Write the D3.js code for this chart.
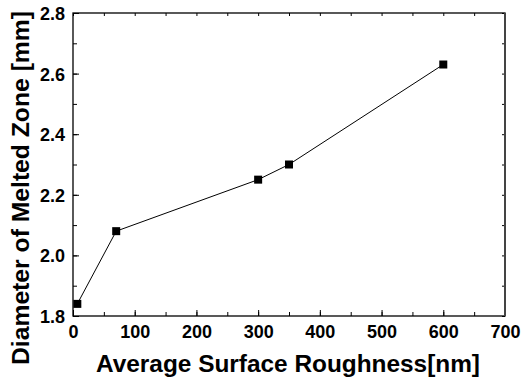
<!DOCTYPE html>
<html>
<head>
<meta charset="utf-8">
<script src="https://cdn.jsdelivr.net/npm/d3@7"></script>
<style>
  body { margin: 0; background: #fff; }
  svg { display: block; font-family: Arial, "Liberation Sans", sans-serif; }
</style>
</head>
<body>
<svg id="chart" width="521" height="383"></svg>
<script>
// data
const roughness = [7, 70, 300, 350, 600]
const diameter = [1.84, 2.08, 2.25, 2.30, 2.63]
const xTicks = [0, 100, 200, 300, 400, 500, 600, 700]
const yTicks = [1.8, 2.0, 2.2, 2.4, 2.6, 2.8]

const W = 521, H = 383
const margin = { top: 13, right: 16, bottom: 67, left: 73 }
const svg = d3.select('#chart')

const x = d3.scaleLinear().domain([0, 700]).range([margin.left, W - margin.right])
const y = d3.scaleLinear().domain([1.8, 2.8]).range([H - margin.bottom, margin.top])

const g = svg.append('g')

const xMinor = d3.range(0, 701, 50)
const yMinor = d3.range(0, 11).map(i => +(1.8 + i * 0.1).toFixed(1))

const styleLabels = a => a.selectAll('text')
  .attr('font-size', 18).attr('font-weight', 'bold').attr('fill', '#000')
  .attr('font-family', 'Arial, "Liberation Sans", sans-serif')

// bottom axis: minor + major ticks pointing in
g.append('g')
  .attr('transform', `translate(0,${y(1.8)})`)
  .call(d3.axisBottom(x).tickValues(xMinor).tickSize(-4).tickFormat(''))
  .call(a => a.select('.domain').remove())
g.append('g')
  .attr('transform', `translate(0,${y(1.8)})`)
  .call(d3.axisBottom(x).tickValues(xTicks).tickSize(-6).tickPadding(9).tickFormat(d3.format('d')))
  .call(a => a.select('.domain').remove())
  .call(styleLabels)

g.append('g')
  .attr('transform', `translate(${x(0)},0)`)
  .call(d3.axisLeft(y).tickValues(yMinor).tickSize(-4).tickFormat(''))
  .call(a => a.select('.domain').remove())
g.append('g')
  .attr('transform', `translate(${x(0)},0)`)
  .call(d3.axisLeft(y).tickValues(yTicks).tickSize(-6).tickPadding(8).tickFormat(d3.format('.1f')))
  .call(a => a.select('.domain').remove())
  .call(styleLabels)
  .call(a => a.selectAll('text').attr('dy', '0.36em'))

// top and right: small ticks only
g.append('g')
  .attr('transform', `translate(0,${y(2.8)})`)
  .call(d3.axisTop(x).tickValues(xMinor).tickSize(-3).tickFormat(''))
  .call(a => a.select('.domain').remove())
g.append('g')
  .attr('transform', `translate(${x(700)},0)`)
  .call(d3.axisRight(y).tickValues(yMinor).tickSize(-3).tickFormat(''))
  .call(a => a.select('.domain').remove())

g.selectAll('.tick line').attr('stroke', '#000').attr('stroke-width', 1)

// frame
g.append('rect')
  .attr('x', x(0)).attr('y', y(2.8))
  .attr('width', x(700) - x(0)).attr('height', y(1.8) - y(2.8))
  .attr('fill', 'none').attr('stroke', '#000').attr('stroke-width', 1.3)
g.append('line')
  .attr('x1', x(700)).attr('x2', x(700)).attr('y1', y(2.8)).attr('y2', y(1.8))
  .attr('stroke', '#444').attr('stroke-width', 2)

// series
const pts = roughness.map((r, i) => [r, diameter[i]])
g.append('path')
  .datum(pts)
  .attr('fill', 'none')
  .attr('stroke', '#000')
  .attr('stroke-width', 1)
  .attr('d', d3.line().x(d => x(d[0])).y(d => y(d[1])))

g.selectAll('rect.pt')
  .data(pts)
  .join('rect')
  .attr('class', 'pt')
  .attr('x', d => x(d[0]) - 4).attr('y', d => y(d[1]) - 4)
  .attr('width', 8).attr('height', 8)
  .attr('fill', '#000')

// axis titles
svg.append('text')
  .attr('x', 288).attr('y', 372)
  .attr('text-anchor', 'middle')
  .attr('font-size', 24).attr('font-weight', 'bold')
  .attr('textLength', 384).attr('lengthAdjust', 'spacingAndGlyphs')
  .text('Average Surface Roughness[nm]')

svg.append('text')
  .attr('transform', `translate(29,188) rotate(-90)`)
  .attr('text-anchor', 'middle')
  .attr('font-size', 24).attr('font-weight', 'bold')
  .attr('textLength', 354).attr('lengthAdjust', 'spacingAndGlyphs')
  .text('Diameter of Melted Zone [mm]')
</script>
</body>
</html>
